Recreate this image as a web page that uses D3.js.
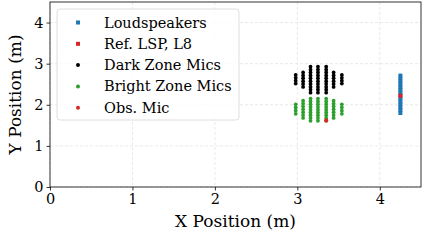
<!DOCTYPE html>
<html>
<head>
<meta charset="utf-8">
<script src="https://cdn.jsdelivr.net/npm/d3@7"></script>
<style>
  body { margin: 0; background: #fff; }
  text { font-family: "DejaVu Serif", serif; fill: #000; }
</style>
</head>
<body>
<div id="chart-area"></div>
<script>
// data (metres)
var xTicks = [0, 1, 2, 3, 4];
var yTicks = [0, 1, 2, 3, 4];

// loudspeaker line array, top to bottom
var lspX = 4.25;
var lspY = [2.71, 2.64, 2.57, 2.50, 2.43, 2.36, 2.29, 2.22, 2.15, 2.08, 2.01, 1.94, 1.87, 1.80];
var refLsp = { x: 4.25, y: 2.22 };

// mic columns: x, lowest y, highest y (step 0.07)
var darkCols = [
  { x: 2.98, y0: 2.515, y1: 2.725 },
  { x: 3.07, y0: 2.435, y1: 2.785 },
  { x: 3.16, y0: 2.295, y1: 2.925 },
  { x: 3.25, y0: 2.295, y1: 2.925 },
  { x: 3.35, y0: 2.295, y1: 2.925 },
  { x: 3.44, y0: 2.435, y1: 2.785 },
  { x: 3.54, y0: 2.515, y1: 2.725 }
];
var brightCols = [
  { x: 2.98, y0: 1.78, y1: 2.01 },
  { x: 3.07, y0: 1.68, y1: 2.10 },
  { x: 3.16, y0: 1.61, y1: 2.15 },
  { x: 3.25, y0: 1.61, y1: 2.15 },
  { x: 3.35, y0: 1.61, y1: 2.15 },
  { x: 3.44, y0: 1.68, y1: 2.10 },
  { x: 3.54, y0: 1.78, y1: 2.01 }
];
var obsMic = { x: 3.35, y: 1.62 };
var micStep = 0.07;

var legendItems = [
  { label: 'Loudspeakers', color: '#1f77b4', shape: 'square' },
  { label: 'Ref. LSP, L8', color: '#d62728', shape: 'square' },
  { label: 'Dark Zone Mics', color: '#000000', shape: 'circle' },
  { label: 'Bright Zone Mics', color: '#2ca02c', shape: 'circle' },
  { label: 'Obs. Mic', color: '#d62728', shape: 'circle' }
];

function expand(cols) {
  var pts = [];
  cols.forEach(function(c) {
    var n = Math.round((c.y1 - c.y0) / micStep);
    for (var i = 0; i <= n; i++) pts.push({ x: c.x, y: c.y0 + i * (c.y1 - c.y0) / (n || 1) });
  });
  return pts;
}
var darkPts = expand(darkCols);
var brightPts = expand(brightCols);

var margin = { left: 50, right: 10, top: 2, bottom: 55 };
var W = 431, H = 242;
var width = W - margin.left - margin.right,
    height = H - margin.top - margin.bottom;

var svg = d3.select('#chart-area').append('svg')
    .attr('width', W).attr('height', H);
var g = svg.append('g')
    .attr('transform', 'translate(' + margin.left + ',' + margin.top + ')');

var x = d3.scaleLinear().domain([0, 4.5]).range([0, width]);
var y = d3.scaleLinear().domain([0, 4.5]).range([height, 0]);

// grid
g.selectAll('.vgrid').data(xTicks).enter().append('line')
    .attr('x1', d => x(d)).attr('x2', d => x(d)).attr('y1', 0).attr('y2', height)
    .attr('stroke', '#e3e3e3').attr('stroke-width', 0.8).attr('stroke-dasharray', '3,2');
g.selectAll('.hgrid').data(yTicks).enter().append('line')
    .attr('y1', d => y(d)).attr('y2', d => y(d)).attr('x1', 0).attr('x2', width)
    .attr('stroke', '#e3e3e3').attr('stroke-width', 0.8).attr('stroke-dasharray', '3,2');

// axes
var xAxis = g.append('g').attr('transform', 'translate(0,' + height + ')')
    .call(d3.axisBottom(x).tickValues(xTicks).tickFormat(d3.format('d')).tickSize(3.5).tickPadding(3));
var yAxis = g.append('g')
    .call(d3.axisLeft(y).tickValues(yTicks).tickFormat(d3.format('d')).tickSize(3.5).tickPadding(3));
[xAxis, yAxis].forEach(function(a) {
  a.selectAll('text').style('font-family', '"DejaVu Serif", serif').style('font-size', '14.5px').attr('fill', '#000');
  a.selectAll('line').attr('stroke', '#000').attr('stroke-width', 0.8);
  a.select('.domain').remove();
});

// frame
g.append('rect').attr('width', width).attr('height', height)
    .attr('fill', 'none').attr('stroke', '#000').attr('stroke-width', 0.8);

// marks
g.selectAll('.lsp').data(lspY).enter().append('rect')
    .attr('x', x(lspX) - 2).attr('y', d => y(d) - 2)
    .attr('width', 4).attr('height', 4).attr('fill', '#1f77b4');
g.append('rect')
    .attr('x', x(refLsp.x) - 2).attr('y', y(refLsp.y) - 2)
    .attr('width', 4).attr('height', 4).attr('fill', '#d62728');

g.selectAll('.dark').data(darkPts).enter().append('circle')
    .attr('cx', d => x(d.x)).attr('cy', d => y(d.y)).attr('r', 1.9).attr('fill', '#000');
g.selectAll('.bright').data(brightPts).enter().append('circle')
    .attr('cx', d => x(d.x)).attr('cy', d => y(d.y)).attr('r', 1.9).attr('fill', '#2ca02c');
g.append('circle')
    .attr('cx', x(obsMic.x)).attr('cy', y(obsMic.y)).attr('r', 2.1).attr('fill', '#d62728');

// axis labels
svg.append('text').attr('x', margin.left + width / 2).attr('y', 227)
    .attr('text-anchor', 'middle').style('font-size', '17px').text('X Position (m)');
svg.append('text').attr('transform', 'translate(21,' + (margin.top + height / 2) + ') rotate(-90)')
    .attr('text-anchor', 'middle').style('font-size', '17px').text('Y Position (m)');

// legend
var legend = svg.append('g').attr('transform', 'translate(57,9)');
legend.append('rect').attr('width', 182).attr('height', 111).attr('rx', 3)
    .attr('fill', '#fff').attr('fill-opacity', 0.8).attr('stroke', '#d6d6d6').attr('stroke-width', 0.8);
legendItems.forEach(function(item, i) {
  var row = legend.append('g').attr('transform', 'translate(21,' + (13.5 + i * 21.3) + ')');
  if (item.shape === 'square') {
    row.append('rect').attr('x', -2).attr('y', -2).attr('width', 4).attr('height', 4).attr('fill', item.color);
  } else {
    row.append('circle').attr('r', 2).attr('fill', item.color);
  }
  row.append('text').attr('x', 26).attr('y', 5).style('font-size', '14.5px').text(item.label);
});
</script>
</body>
</html>
